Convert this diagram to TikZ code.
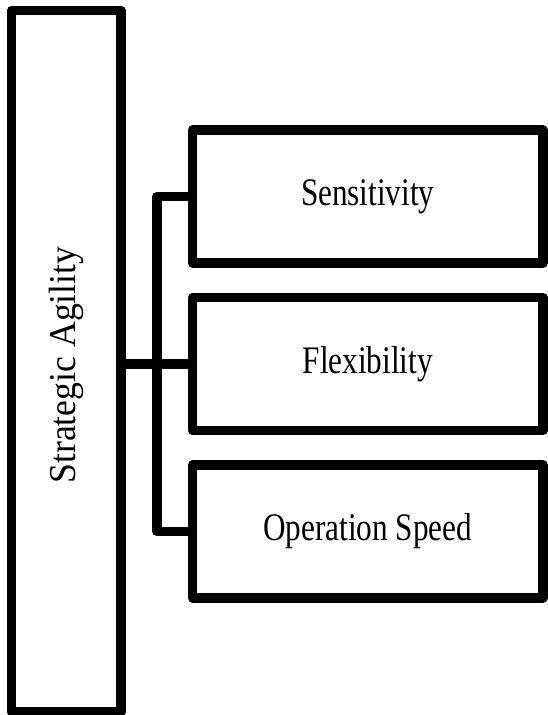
\documentclass[tikz,border=0pt]{standalone}
\usepackage{fontspec}
\setmainfont{Liberation Serif}
\newfontfamily\itemfont[FakeStretch=0.8]{Liberation Serif}
\newfontfamily\rootfont[FakeStretch=0.94]{Liberation Serif}
\usetikzlibrary{calc}

\tikzset{
  box/.style={draw, line width=9.5pt, line join=round, fill=white, inner sep=0pt},
  itembox/.style={box, minimum width=350.5pt, minimum height=133pt, font=\itemfont\fontsize{39}{44}\selectfont},
  link/.style={draw, line width=9.5pt, line join=round}
}

\begin{document}
\begin{tikzpicture}[x=1pt, y=-1pt]
  \useasboundingbox (0,0) rectangle (548,715);

  % Tall box on the left
  \node[box, minimum width=109.5pt, minimum height=701.5pt] (agility) at (66.25,361.25) {};
  \node[rotate=90, font=\rootfont\fontsize{38}{42}\selectfont] (agilitytext) at (66.25,365) {Strategic Agility};

  % The three parts
  \node[itembox] (sens) at (367.75,196.5) {Sensitivity};
  \node[itembox] (flex) at (367.75,364) {Flexibility};
  \node[itembox] (speed) at (367.75,531.5) {Operation Speed};

  % Bracket joining them
  \coordinate (bus) at ($(agility.east)!0.5!(flex.west)$);
  \draw[link] (sens.west) -| (bus) |- (speed.west);
  \draw[link] (agility.east |- flex.west) -- (flex.west);
\end{tikzpicture}
\end{document}
